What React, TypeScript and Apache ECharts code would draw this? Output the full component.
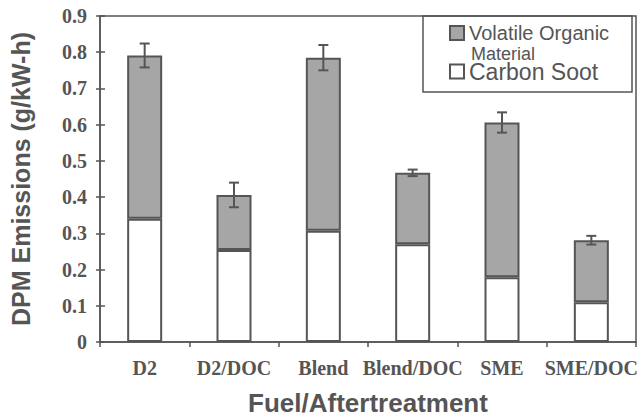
import React, { useEffect, useRef } from "react";
import * as echarts from "echarts";

const categories = ["D2", "D2/DOC", "Blend", "Blend/DOC", "SME", "SME/DOC"];
const totalDPM = [0.791, 0.406, 0.785, 0.467, 0.606, 0.281];
const carbonSoot = [0.34, 0.254, 0.307, 0.27, 0.179, 0.11];
const errorHalf = [0.033, 0.034, 0.035, 0.009, 0.028, 0.012];
const yTicks = [0, 0.1, 0.2, 0.3, 0.4, 0.5, 0.6, 0.7, 0.8, 0.9];

const GREY = "#555555";
const SERIF = "'Liberation Serif', 'Times New Roman', serif";
const SANS = "'Liberation Sans', Arial, sans-serif";

export default function App() {
  const ref = useRef<HTMLDivElement>(null);
  useEffect(() => {
    if (!ref.current) return;
    const chart = echarts.init(ref.current, undefined, { renderer: "svg" });
    const volatile = totalDPM.map((t, i) => +(t - carbonSoot[i]).toFixed(3));
    const errData = totalDPM.map((t, i) => [i, t - errorHalf[i], t + errorHalf[i]]);
    const yMax = yTicks[yTicks.length - 1];
    chart.setOption({
      animation: false,
      grid: {
        left: 100,
        right: 3,
        top: 16,
        bottom: 77,
        show: true,
        borderColor: GREY,
        borderWidth: 1.5,
        containLabel: false,
        outerBoundsMode: "none",
      },
      legend: [
        {
          data: ["Volatile Organic Material"],
          formatter: () => "Volatile Organic",
          icon: "rect",
          orient: "vertical",
          left: 449,
          top: 23,
          padding: 0,
          itemWidth: 14,
          itemHeight: 14,
          textStyle: { fontFamily: SANS, fontSize: 20, color: GREY },
          selectedMode: false,
        },
        {
          data: ["Carbon Soot"],
          icon: "rect",
          orient: "vertical",
          left: 449,
          top: 60,
          padding: 0,
          itemWidth: 14,
          itemHeight: 14,
          textStyle: { fontFamily: SANS, fontSize: 23, color: GREY },
          selectedMode: false,
        },
      ],
      graphic: [
        {
          type: "rect",
          shape: { x: 423, y: 16, width: 209, height: 76 },
          style: { fill: "none", stroke: GREY, lineWidth: 1.5 },
          z: 10,
        },
        {
          type: "text",
          x: 471,
          y: 45,
          style: { text: "Material", fontFamily: SANS, fontSize: 18, fill: GREY },
          z: 10,
        },
      ],
      xAxis: {
        type: "category",
        data: categories,
        boundaryGap: true,
        axisLine: { lineStyle: { color: GREY, width: 1.5 } },
        axisTick: { show: true, length: 5, lineStyle: { color: GREY, width: 1.5 } },
        axisLabel: {
          interval: 0,
          fontFamily: SERIF,
          fontWeight: "bold",
          fontSize: 20,
          color: GREY,
          margin: 16,
        },
        name: "Fuel/Aftertreatment",
        nameLocation: "middle",
        nameGap: 48,
        nameTextStyle: { fontFamily: SANS, fontWeight: "bold", fontSize: 26, color: GREY },
      },
      yAxis: [
        {
          type: "value",
          min: 0,
          max: yMax,
          interval: 0.1,
          splitLine: { show: false },
          axisLine: { show: true, lineStyle: { color: GREY, width: 1.5 } },
          axisTick: { show: true, length: 4, lineStyle: { color: GREY, width: 1.5 } },
          axisLabel: {
            fontFamily: SERIF,
            fontWeight: "bold",
            fontSize: 20,
            color: GREY,
            margin: 13,
            formatter: (v: number) => (v === 0 ? "0" : v.toFixed(1)),
          },
          name: "DPM Emissions (g/kW-h)",
          nameLocation: "middle",
          nameGap: 67,
          nameTextStyle: { fontFamily: SANS, fontWeight: "bold", fontSize: 25, color: GREY },
        },
        {
          type: "value",
          min: 0,
          max: yMax,
          interval: 0.1,
          position: "left",
          splitLine: { show: false },
          axisLine: { show: false },
          axisTick: { show: true, inside: true, length: 5, lineStyle: { color: GREY, width: 1.5 } },
          axisLabel: { show: false },
        },
      ],
      series: [
        {
          name: "Carbon Soot",
          type: "bar",
          stack: "dpm",
          barWidth: 35,
          data: carbonSoot,
          itemStyle: { color: "#ffffff", borderColor: GREY, borderWidth: 2 },
        },
        {
          name: "Volatile Organic Material",
          type: "bar",
          stack: "dpm",
          barWidth: 35,
          data: volatile,
          itemStyle: { color: "#a6a6a6", borderColor: GREY, borderWidth: 2 },
        },
        {
          type: "custom",
          name: "err",
          data: errData,
          z: 5,
          renderItem: (params: any, api: any) => {
            const i = api.value(0);
            const lo = api.coord([i, api.value(1)]);
            const hi = api.coord([i, api.value(2)]);
            const w = 5;
            const style = { stroke: GREY, lineWidth: 2 };
            return {
              type: "group",
              children: [
                { type: "line", shape: { x1: hi[0], y1: hi[1], x2: lo[0], y2: lo[1] }, style },
                { type: "line", shape: { x1: hi[0] - w, y1: hi[1], x2: hi[0] + w, y2: hi[1] }, style },
                { type: "line", shape: { x1: lo[0] - w, y1: lo[1], x2: lo[0] + w, y2: lo[1] }, style },
              ],
            };
          },
        },
      ],
    });
    return () => chart.dispose();
  }, []);
  return (
    <div
      ref={ref}
      style={{ position: "fixed", left: 0, top: 0, width: 639, height: 419, background: "#fff" }}
    />
  );
}
